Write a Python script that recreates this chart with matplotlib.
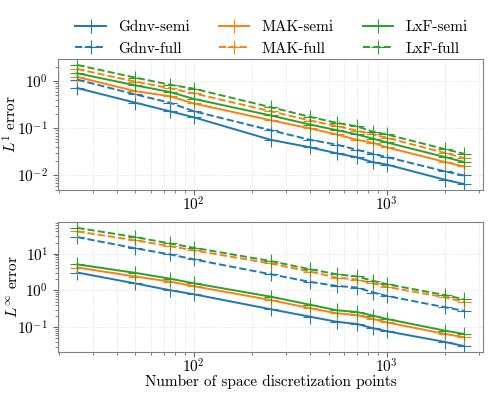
import matplotlib
matplotlib.use('Agg')
import matplotlib.pyplot as plt

plt.rcParams['font.family'] = 'serif'
plt.rcParams['font.serif'] = ['cmr10']
plt.rcParams['mathtext.fontset'] = 'cm'
plt.rcParams['axes.formatter.use_mathtext'] = True
plt.rcParams['font.size'] = 11

npts = [25, 50, 75, 100, 250, 400, 550, 700, 850, 1000, 2000, 2500]

# L1 errors
l1_gdnv_semi = [0.71, 0.347, 0.23, 0.171, 0.057, 0.0395, 0.0295, 0.0242, 0.019, 0.017, 0.0081, 0.0066]
l1_gdnv_full = [1.07, 0.52, 0.35, 0.23, 0.091, 0.057, 0.045, 0.035, 0.0285, 0.0245, 0.0122, 0.010]
l1_mak_semi = [1.22, 0.61, 0.48, 0.336, 0.148, 0.099, 0.074, 0.057, 0.049, 0.0395, 0.0193, 0.0155]
l1_mak_full = [1.8, 0.97, 0.71, 0.55, 0.23, 0.146, 0.112, 0.089, 0.074, 0.063, 0.030, 0.0234]
l1_lxf_semi = [1.46, 0.81, 0.59, 0.42, 0.187, 0.12, 0.091, 0.074, 0.06, 0.05, 0.0245, 0.0193]
l1_lxf_full = [2.19, 1.18, 0.84, 0.69, 0.28, 0.175, 0.13, 0.11, 0.084, 0.074, 0.036, 0.029]

# Linf errors
li_gdnv_semi = [3.06, 1.55, 1.02, 0.79, 0.31, 0.194, 0.141, 0.123, 0.094, 0.078, 0.040, 0.031]
li_gdnv_full = [28.1, 13.9, 9.6, 7.0, 2.76, 1.71, 1.33, 1.2, 0.88, 0.71, 0.35, 0.28]
li_mak_semi = [4.2, 2.39, 1.75, 1.31, 0.55, 0.33, 0.24, 0.214, 0.168, 0.136, 0.066, 0.054]
li_mak_full = [40, 23, 16, 12.3, 5.4, 3.25, 2.24, 1.98, 1.55, 1.25, 0.65, 0.49]
li_lxf_semi = [5.1, 3.0, 2.1, 1.57, 0.68, 0.41, 0.29, 0.26, 0.206, 0.168, 0.081, 0.066]
li_lxf_full = [50, 28, 19, 14.5, 6.3, 3.77, 2.76, 2.4, 1.82, 1.48, 0.75, 0.58]

schemes = ['Gdnv', 'MAK', 'LxF']
colors = ['tab:blue', 'tab:orange', 'tab:green']
l1 = {'Gdnv': (l1_gdnv_semi, l1_gdnv_full), 'MAK': (l1_mak_semi, l1_mak_full),
      'LxF': (l1_lxf_semi, l1_lxf_full)}
li = {'Gdnv': (li_gdnv_semi, li_gdnv_full), 'MAK': (li_mak_semi, li_mak_full),
      'LxF': (li_lxf_semi, li_lxf_full)}

fig = plt.figure(figsize=(4.98, 3.99), dpi=100)
ax1 = fig.add_axes([0.1165, 0.524, 0.8535, 0.328])
ax2 = fig.add_axes([0.1165, 0.118, 0.8535, 0.3256])

def draw(ax, data):
  for s, c in zip(schemes, colors):
    semi, full = data[s]
    ax.plot(npts, semi, '-', color=c, marker='+', ms=10, mew=0.8, lw=1.4, label=s + '-semi')
    ax.plot(npts, full, '--', color=c, marker='+', ms=10, mew=0.8, lw=1.4, label=s + '-full')
  ax.set_xscale('log')
  ax.set_yscale('log')
  ax.grid(which='major', color='0.85', lw=0.6, ls=':')
  ax.grid(which='minor', axis='x', color='0.85', lw=0.6, ls=':')
  for sp in ax.spines.values():
    sp.set_color('0.5')
  ax.tick_params(which='both', color='0.4')
  ax.tick_params(axis='x', which='major', pad=0.5)
  ax.yaxis.set_label_coords(-0.09, 0.5)

draw(ax1, l1)
draw(ax2, li)
ax1.set_ylabel('$L^1$ error')
ax2.set_ylabel(r'$L^\infty$ error')
ax2.set_xlabel('Number of space discretization points', labelpad=-1)

handles, labels = ax1.get_legend_handles_labels()
fig.legend(handles, labels, loc='upper center', bbox_to_anchor=(0.545, 0.983), ncol=3,
           frameon=False, handlelength=2.0, columnspacing=1.9)

fig.savefig('out.png', dpi=100)
